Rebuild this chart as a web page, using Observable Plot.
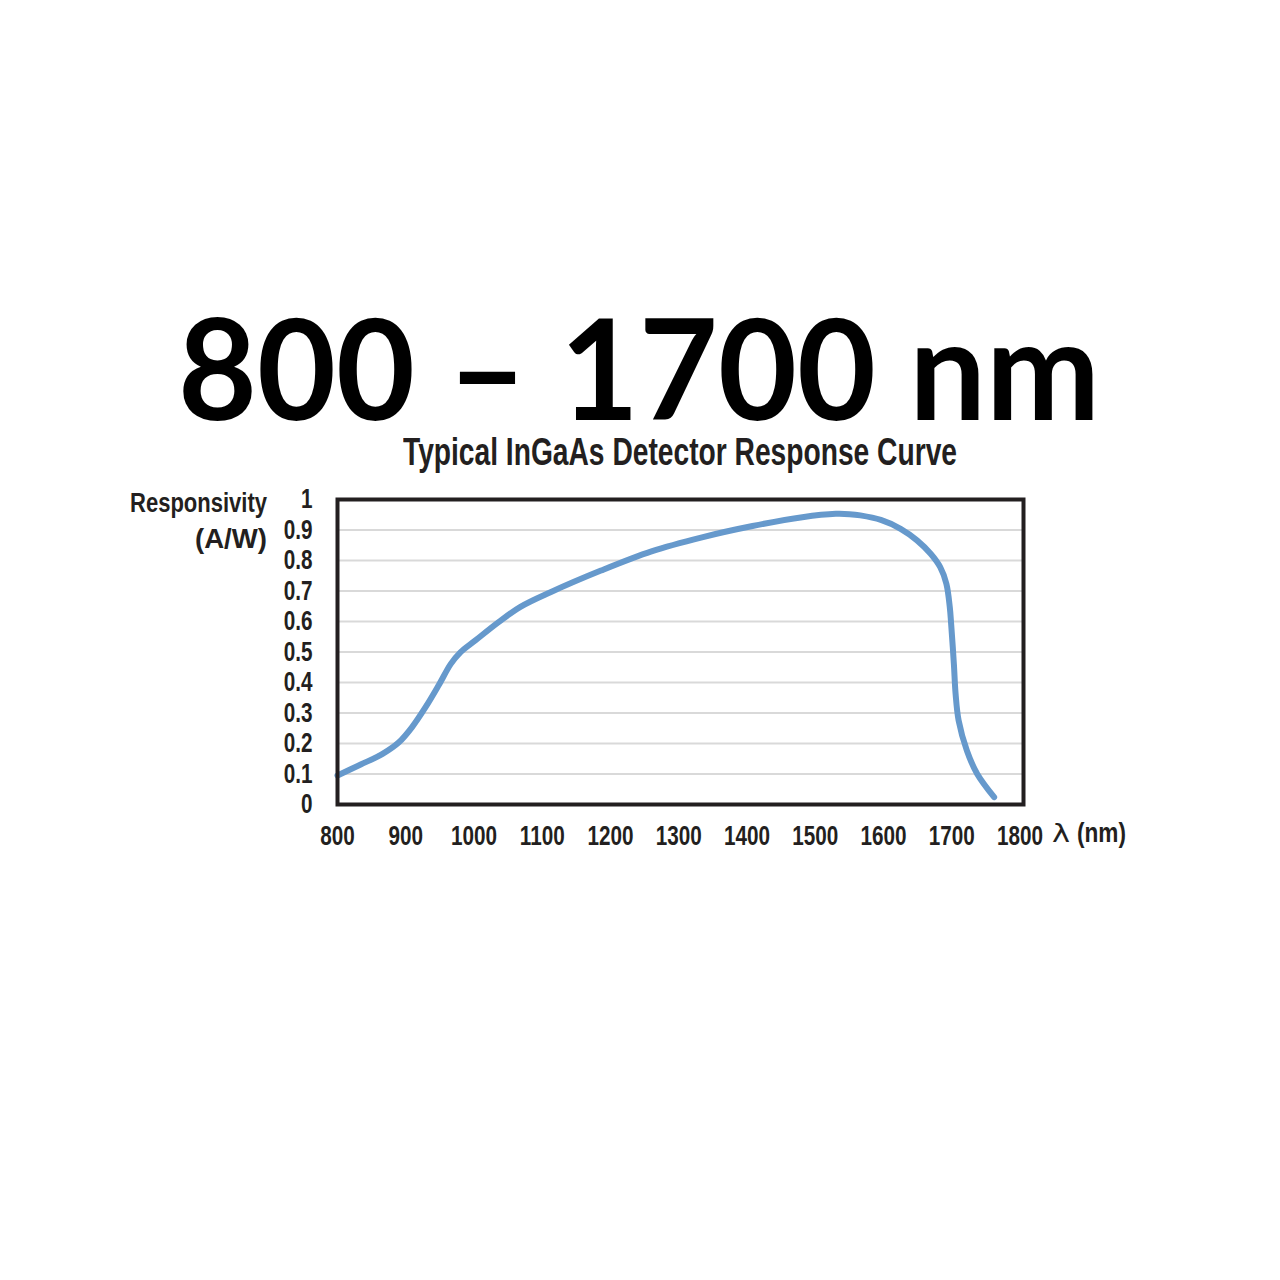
<!DOCTYPE html>
<html>
<head>
<meta charset="utf-8">
<script src="https://cdn.jsdelivr.net/npm/d3@7"></script>
<script src="https://cdn.jsdelivr.net/npm/@observablehq/plot@0.6"></script>
<style>
  html, body { margin: 0; padding: 0; background: #fff; }
  #wrap { position: relative; width: 1280px; height: 1280px; overflow: hidden; background: #fff; }
  #chart { position: absolute; left: 0; top: 470px; }
  .lbl { position: absolute; left: 0; top: 0; white-space: nowrap; color: #231f20; }
  .lbl .txt { display: inline-block; transform-origin: 0 50%; }
  .lbl .bl { display: inline-block; width: 0; height: 0; vertical-align: baseline; }
  #title { font-family: Lato, "Open Sans", sans-serif; font-weight: 700; font-size: 139px; line-height: 100px; color: #000; }
  #subtitle { font-family: "Liberation Sans", Arial, sans-serif; font-weight: 700; font-size: 38px; line-height: 28px; }
  .axt { font-family: "Liberation Sans", Arial, sans-serif; font-weight: 700; font-size: 27px; line-height: 20px; }
  #lam { font-family: "DejaVu Sans", sans-serif; font-weight: 400; font-size: 24px; line-height: 20px; }
</style>
</head>
<body>
<div id="wrap">
  <div id="chart"></div>
  <div id="title" class="lbl"><span class="txt">800 – 1700 nm</span><span class="bl"></span></div>
  <div id="subtitle" class="lbl"><span class="txt">Typical InGaAs Detector Response Curve</span><span class="bl"></span></div>
  <div id="ylab1" class="lbl axt"><span class="txt">Responsivity</span><span class="bl"></span></div>
  <div id="ylab2" class="lbl axt"><span class="txt">(A/W)</span><span class="bl"></span></div>
  <div id="lam" class="lbl"><span class="txt">λ</span><span class="bl"></span></div>
  <div id="xlab" class="lbl axt"><span class="txt">(nm)</span><span class="bl"></span></div>
</div>
<script>
// Data
const wavelength = [800, 834, 866, 890, 909, 929, 948, 966, 980, 1002, 1036, 1068, 1112, 1186, 1260, 1334, 1408, 1481, 1530, 1550, 1566, 1596, 1625, 1649, 1669, 1683, 1692, 1697, 1699, 1703, 1705.5, 1710, 1722, 1737, 1762];
const responsivity = [0.095, 0.131, 0.166, 0.204, 0.253, 0.319, 0.390, 0.461, 0.499, 0.538, 0.598, 0.648, 0.696, 0.767, 0.830, 0.876, 0.913, 0.942, 0.953, 0.952, 0.948, 0.933, 0.904, 0.866, 0.822, 0.778, 0.724, 0.647, 0.592, 0.461, 0.363, 0.275, 0.177, 0.101, 0.024];
const xTicks = [800, 900, 1000, 1100, 1200, 1300, 1400, 1500, 1600, 1700, 1800];
const yTicks = [0, 0.1, 0.2, 0.3, 0.4, 0.5, 0.6, 0.7, 0.8, 0.9, 1];
const gridValues = [0.1, 0.2, 0.3, 0.4, 0.5, 0.6, 0.7, 0.8, 0.9];

const curve = wavelength.map((w, i) => ({wl: w, r: responsivity[i]}));

const chart = Plot.plot({
  width: 1280,
  height: 420,
  marginTop: 29,
  marginBottom: 86,
  marginLeft: 337,
  marginRight: 257,
  style: {
    fontFamily: "'Liberation Sans', Arial, sans-serif",
    fontSize: "28px",
    fontWeight: "bold",
    color: "#231f20",
    background: "transparent",
    overflow: "visible"
  },
  x: {domain: [800, 1805], ticks: xTicks, tickFormat: d => String(d), tickSize: 0, tickPadding: 21, label: null},
  y: {domain: [0, 1], ticks: yTicks, tickFormat: d => String(d), tickSize: 0, tickPadding: 25, label: null},
  marks: [
    Plot.ruleY(gridValues, {stroke: "#d9d9d9", strokeWidth: 2}),
    Plot.line(curve, {x: "wl", y: "r", curve: "catmull-rom", stroke: "#6699cc", strokeWidth: 6, strokeLinecap: "round", strokeLinejoin: "round"}),
    Plot.frame({stroke: "#231f20", strokeWidth: 4})
  ]
});
document.getElementById("chart").appendChild(chart);

// condense tick labels horizontally (reference uses a condensed typeface)
chart.querySelectorAll('g[aria-label="x-axis tick label"] text, g[aria-label="y-axis tick label"] text').forEach(t => {
  const tr = t.getAttribute("transform") || "";
  t.setAttribute("transform", tr + " scale(0.74,1)");
});

// place a text block: left edge, width and baseline in page pixels
function place(id, left, width, baseline) {
  const el = document.getElementById(id);
  const txt = el.querySelector(".txt");
  const bl = el.querySelector(".bl");
  el.style.left = "0px";
  el.style.top = "0px";
  txt.style.transform = "none";
  const w0 = txt.getBoundingClientRect().width;
  if (!(w0 > 0)) return;
  txt.style.transform = `scaleX(${width / w0})`;
  const r = txt.getBoundingClientRect();
  const b = bl.getBoundingClientRect().bottom;
  el.style.left = (left - r.left) + "px";
  el.style.top = (baseline - b) + "px";
}
function layout() {
  place("title", 178, 922, 420);
  place("subtitle", 403, 554, 465);
  place("ylab1", 130, 137, 512);
  place("ylab2", 195, 72, 548);
  place("lam", 1052, 18, 842);
  place("xlab", 1077, 49, 842);
}
layout();
if (document.fonts && document.fonts.ready) document.fonts.ready.then(layout);
</script>
</body>
</html>
